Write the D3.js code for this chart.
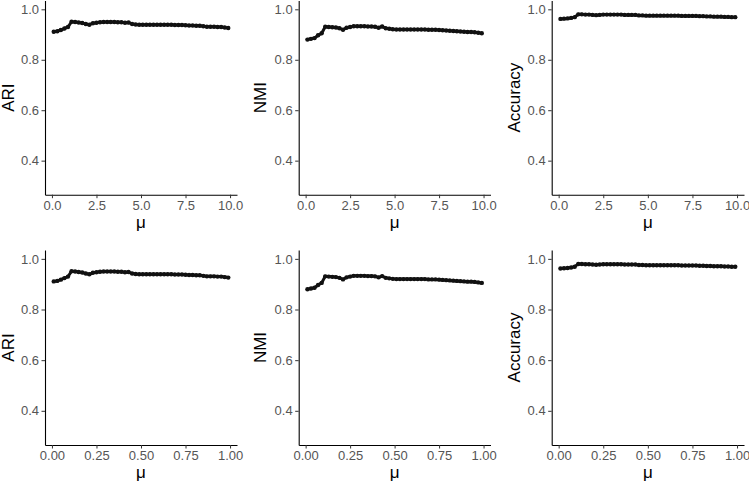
<!DOCTYPE html>
<html>
<head>
  <title>Clustering metrics vs mu</title>
  <script src="https://d3js.org/d3.v7.min.js"></script>
  <style>
    body { margin: 0; background: #fff; }
    svg { display: block; font-family: "Liberation Sans", Arial, sans-serif; }
    .axis text { fill: #555; font-size: 13px; }
    .axis .tick line { stroke: #333; stroke-width: 1; }
    .axis .domain { stroke: #000; stroke-width: 1.1; }
    .title { fill: #000; font-size: 17px; }
  </style>
</head>
<body>
  <svg id="chart" width="749" height="481"></svg>

  <script>
    // mu grid for the two rows
    const muTop = [0.1, 0.3, 0.5, 0.7, 0.9, 1.1, 1.3, 1.5, 1.7, 1.9,
      2.1, 2.3, 2.5, 2.7, 2.9, 3.1, 3.3, 3.5, 3.7, 3.9,
      4.1, 4.3, 4.5, 4.7, 4.9, 5.1, 5.3, 5.5, 5.7, 5.9,
      6.1, 6.3, 6.5, 6.7, 6.9, 7.1, 7.3, 7.5, 7.7, 7.9,
      8.1, 8.3, 8.5, 8.7, 8.9, 9.1, 9.3, 9.5, 9.7, 9.9];
    const muBottom = [0.01, 0.03, 0.05, 0.07, 0.09, 0.11, 0.13, 0.15, 0.17, 0.19,
      0.21, 0.23, 0.25, 0.27, 0.29, 0.31, 0.33, 0.35, 0.37, 0.39,
      0.41, 0.43, 0.45, 0.47, 0.49, 0.51, 0.53, 0.55, 0.57, 0.59,
      0.61, 0.63, 0.65, 0.67, 0.69, 0.71, 0.73, 0.75, 0.77, 0.79,
      0.81, 0.83, 0.85, 0.87, 0.89, 0.91, 0.93, 0.95, 0.97, 0.99];

    const ari = [0.911, 0.913, 0.918, 0.924, 0.930, 0.951, 0.950, 0.948, 0.946, 0.942,
      0.939, 0.945, 0.947, 0.949, 0.950, 0.950, 0.950, 0.950, 0.949, 0.949,
      0.947, 0.948, 0.942, 0.940, 0.939, 0.939, 0.939, 0.939, 0.939, 0.939,
      0.939, 0.939, 0.939, 0.939, 0.938, 0.938, 0.938, 0.937, 0.936, 0.936,
      0.935, 0.935, 0.933, 0.931, 0.931, 0.931, 0.930, 0.930, 0.928, 0.926];
    const nmi = [0.880, 0.883, 0.886, 0.897, 0.905, 0.931, 0.930, 0.929, 0.928, 0.925,
      0.919, 0.927, 0.930, 0.933, 0.933, 0.933, 0.933, 0.932, 0.932, 0.931,
      0.927, 0.932, 0.925, 0.923, 0.921, 0.920, 0.920, 0.920, 0.920, 0.920,
      0.920, 0.920, 0.920, 0.920, 0.919, 0.919, 0.919, 0.918, 0.917, 0.916,
      0.915, 0.914, 0.913, 0.912, 0.911, 0.910, 0.910, 0.909, 0.907, 0.905];
    const accuracy = [0.962, 0.963, 0.964, 0.966, 0.969, 0.980, 0.980, 0.979, 0.979, 0.978,
      0.977, 0.978, 0.979, 0.979, 0.979, 0.979, 0.979, 0.979, 0.978, 0.978,
      0.978, 0.978, 0.976, 0.976, 0.975, 0.975, 0.975, 0.975, 0.975, 0.975,
      0.975, 0.975, 0.975, 0.975, 0.974, 0.974, 0.974, 0.974, 0.974, 0.973,
      0.973, 0.972, 0.972, 0.971, 0.971, 0.971, 0.970, 0.970, 0.969, 0.969];

    const metricNames = ["ARI", "NMI", "Accuracy"];
    const metricValues = [ari, nmi, accuracy];
    const yTicks = [0.4, 0.6, 0.8, 1.0];
    const yLimits = [0.3, 1.0];
    const xTicksTop = [0, 2.5, 5, 7.5, 10];
    const xTicksBottom = [0, 0.25, 0.5, 0.75, 1];

    const svg = d3.select("#chart");

    // panel boxes (pixel positions of the plotting areas)
    const cols = [
      { left: 45, right: 237, titleX: 14 },
      { left: 298.7, right: 490.5, titleX: 265.5 },
      { left: 551.7, right: 744, titleX: 520 }
    ];
    const rows = [
      { top: 0.5, bottom: 194.7, mu: muTop, ticks: xTicksTop, fmt: d3.format(".1f") },
      { top: 250, bottom: 445, mu: muBottom, ticks: xTicksBottom, fmt: d3.format(".2f") }
    ];

    // ggplot-like 5% expansion
    function expand(lo, hi) {
      const p = (hi - lo) * 0.05;
      return [lo - p, hi + p];
    }

    rows.forEach(row => {
      cols.forEach((col, ci) => {
        const values = metricValues[ci];
        const data = row.mu.map((m, i) => ({ x: m, y: values[i] }));

        const x = d3.scaleLinear()
          .domain(expand(d3.min(row.mu), d3.max(row.mu)))
          .range([col.left, col.right]);
        const y = d3.scaleLinear()
          .domain(expand(yLimits[0], yLimits[1]))
          .range([row.bottom, row.top]);

        const g = svg.append("g");

        // line + points
        g.append("path")
          .datum(data)
          .attr("fill", "none")
          .attr("stroke", "#111")
          .attr("stroke-width", 3)
          .attr("d", d3.line().x(d => x(d.x)).y(d => y(d.y)));

        g.selectAll("circle")
          .data(data)
          .enter().append("circle")
          .attr("cx", d => x(d.x))
          .attr("cy", d => y(d.y))
          .attr("r", 2.2)
          .attr("fill", "#111");

        // axes
        g.append("g")
          .attr("class", "axis")
          .attr("transform", `translate(${col.left},0)`)
          .call(d3.axisLeft(y).tickValues(yTicks).tickFormat(d3.format(".1f"))
            .tickSize(3.5).tickSizeOuter(0).tickPadding(2.5));

        g.append("g")
          .attr("class", "axis")
          .attr("transform", `translate(0,${row.bottom})`)
          .call(d3.axisBottom(x).tickValues(row.ticks).tickFormat(row.fmt)
            .tickSize(3.5).tickSizeOuter(0).tickPadding(2.5));

        // titles
        g.append("text")
          .attr("class", "title")
          .attr("text-anchor", "middle")
          .attr("transform", `translate(${col.titleX},${(row.top + row.bottom) / 2}) rotate(-90)`)
          .text(metricNames[ci]);

        g.append("text")
          .attr("class", "title")
          .attr("text-anchor", "middle")
          .attr("x", (col.left + col.right) / 2)
          .attr("y", row.bottom + 33)
          .text("μ");
      });
    });
  </script>
</body>
</html>
